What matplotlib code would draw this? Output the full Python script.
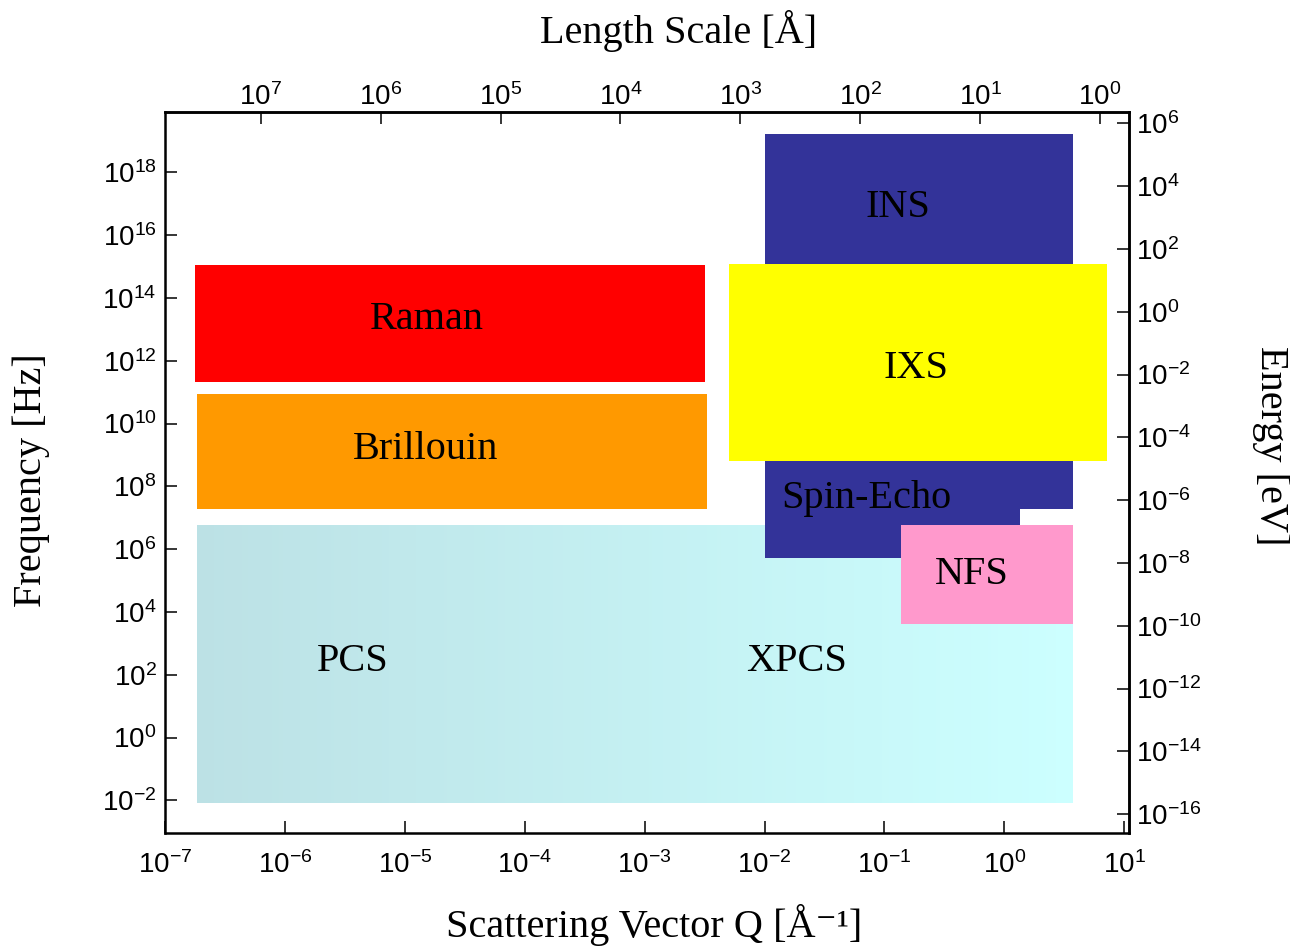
import numpy as np
import matplotlib
matplotlib.use('Agg')
import matplotlib.pyplot as plt
from matplotlib.patches import Rectangle
from matplotlib.colors import LinearSegmentedColormap
from matplotlib.ticker import FixedLocator, FuncFormatter, NullLocator

plt.rcParams['font.family'] = 'Liberation Sans'
plt.rcParams['mathtext.default'] = 'regular'

# technique regions: Q range [1/A] and frequency range [Hz]
techniques = ['INS', 'Spin-Echo', 'IXS', 'Raman', 'Brillouin', 'NFS']
q_lo = [1.0e-2, 1.0e-2, 5.1e-3, 1.77e-7, 1.85e-7, 0.137]
q_hi = [3.77, 1.36, 7.2, 3.18e-3, 3.32e-3, 3.77]
f_lo = [1.9e7, 5.1e5, 6.5e8, 2.1e11, 1.9e7, 4.1e3]
f_hi = [1.7e19, 3.0e8, 1.17e15, 1.1e15, 8.7e10, 6.0e6]
colors = ['#333399', '#333399', '#ffff00', '#ff0000', '#ff9900', '#ff99cc']

# the photon correlation region (PCS / XPCS) with colour gradient
pcs_q = [1.85e-7, 3.77]
pcs_f = [8.2e-3, 6.0e6]
pcs_colors = ['#bce1e5', '#ccffff']

# text labels and where they sit (Q, frequency)
label_text = ['INS', 'IXS', 'Raman', 'Brillouin', 'Spin-Echo', 'NFS', 'PCS', 'XPCS']
label_q = [0.129, 0.182, 1.54e-5, 1.48e-5, 0.0711, 0.534, 3.66e-6, 0.0185]
label_f = [3.9e16, 2.75e11, 1.02e13, 7.4e8, 2.0e7, 7.8e4, 132, 132]

q_ticks = [10.0**k for k in range(-7, 2)]
f_ticks = [10.0**k for k in range(-2, 19, 2)]
len_ticks = [10.0**k for k in range(0, 8)]
e_ticks = [10.0**k for k in range(-16, 7, 2)]
e_offset = 10**-13.56  # energy axis as drawn in the original

W, H = 1290, 946
fig = plt.figure(figsize=(W / 100, H / 100), dpi=100)
ax = fig.add_axes([165 / W, 1 - 832.7 / H, (1129 - 165) / W, (832.7 - 112) / H])
ax.set_xscale('log')
ax.set_yscale('log')
ax.set_xlim(1e-7, 10**1.04)
ax.set_ylim(10**-3.03, 10**19.92)

# gradient box
cmap = LinearSegmentedColormap.from_list('pcs', pcs_colors)
xe = np.geomspace(pcs_q[0], pcs_q[1], 257)
ax.pcolormesh(xe, pcs_f, np.linspace(0, 1, 256)[None, :], cmap=cmap,
              shading='flat', antialiased=False, linewidth=0, zorder=1)

for name, x0, x1, y0, y1, c in zip(techniques, q_lo, q_hi, f_lo, f_hi, colors):
    ax.add_patch(Rectangle((x0, y0), x1 - x0, y1 - y0, facecolor=c,
                           edgecolor='none', zorder=2))

for t, q, f in zip(label_text, label_q, label_f):
    ax.text(q, f, t, ha='center', va='baseline', family='Liberation Serif',
            fontsize=29, zorder=5)

fmt = FuncFormatter(lambda v, pos: '$10^{%d}$' % int(round(np.log10(v))))

ax.xaxis.set_major_locator(FixedLocator(q_ticks))
ax.xaxis.set_minor_locator(NullLocator())
ax.xaxis.set_major_formatter(fmt)
ax.yaxis.set_major_locator(FixedLocator(f_ticks))
ax.yaxis.set_minor_locator(NullLocator())
ax.yaxis.set_major_formatter(fmt)
ax.tick_params(direction='in', length=8.5, width=1.1, labelsize=20, pad=6,
               top=False, right=False)
ax.tick_params(axis='x', pad=13)
for s in ax.spines.values():
    s.set_linewidth(1.8)

secx = ax.secondary_xaxis('top', functions=(lambda q: 2 * np.pi / q,
                                            lambda l: 2 * np.pi / l))
secx.xaxis.set_major_locator(FixedLocator(len_ticks))
secx.xaxis.set_minor_locator(NullLocator())
secx.xaxis.set_major_formatter(fmt)
secx.tick_params(direction='in', length=8.5, width=1.1, labelsize=20, pad=0.5)
secx.spines['top'].set_linewidth(1.8)

secy = ax.secondary_yaxis('right', functions=(lambda f: f * e_offset,
                                              lambda e: e / e_offset))
secy.yaxis.set_major_locator(FixedLocator(e_ticks))
secy.yaxis.set_minor_locator(NullLocator())
secy.yaxis.set_major_formatter(fmt)
secy.tick_params(direction='in', length=8.5, width=1.1, labelsize=20, pad=5)
secy.spines['right'].set_linewidth(1.8)

serif = dict(family=['Liberation Serif', 'DejaVu Serif'], fontsize=29)
fig.text(679 / W, 1 - 43.3 / H, 'Length Scale [Å]', ha='center', va='baseline', **serif)
fig.text(654 / W, 1 - 937 / H, 'Scattering Vector Q [Å⁻¹]', ha='center', va='baseline', **serif)
fig.text(31 / W, 1 - 480 / H, 'Frequency [Hz]', ha='center', va='center', rotation=90, **serif)
fig.text(1271 / W, 1 - 446 / H, 'Energy [eV]', ha='center', va='center', rotation=270, **serif)

fig.savefig('out.png', dpi=100)
